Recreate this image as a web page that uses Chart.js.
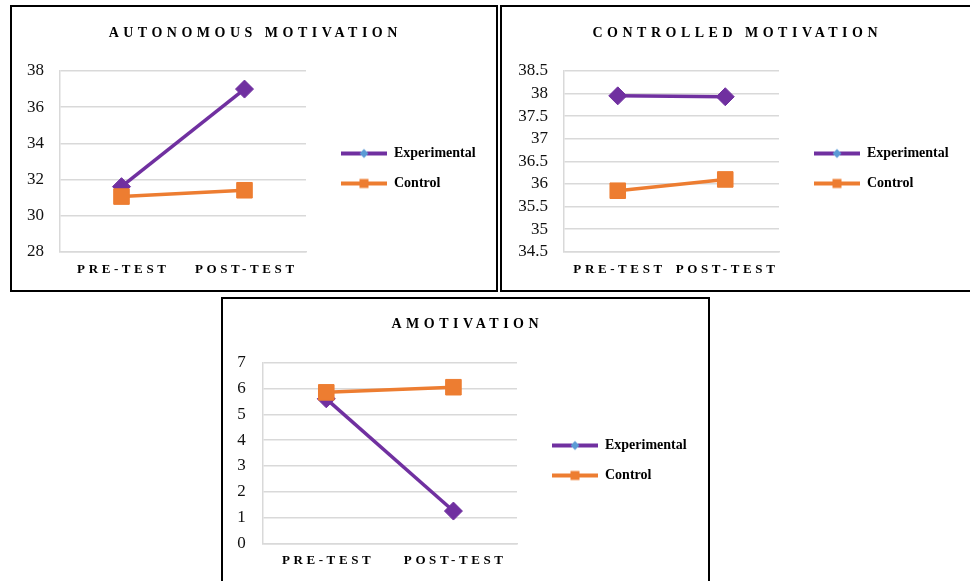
<!DOCTYPE html>
<html lang="en">

<head>
    <meta charset="UTF-8">
    <title>Motivation</title>
    <script src="https://cdn.jsdelivr.net/npm/chart.js"></script>
    <style>
        html, body { margin: 0; padding: 0; background: #fff; overflow: hidden; }
        .box { position: absolute; border: 2px solid #000; box-sizing: border-box; background: #fff; }
        .box canvas { position: absolute; left: 0; top: 0; }
    </style>
</head>

<body>
    <div class="box" style="left:10px; top:5px; width:488px; height:287px;">
        <canvas id="autonomous" width="484" height="282"></canvas>
    </div>
    <div class="box" style="left:500px; top:5px; width:472px; height:287px;">
        <canvas id="controlled" width="468" height="282"></canvas>
    </div>
    <div class="box" style="left:221px; top:297px; width:489px; height:300px;">
        <canvas id="amotivation" width="484" height="282"></canvas>
    </div>

    <script>
        // data
        const categories = ['PRE-TEST', 'POST-TEST'];
        const seriesNames = ['Experimental', 'Control'];

        const autonomousExperimental = [31.6, 37.0];
        const autonomousControl = [31.05, 31.4];
        const autonomousTicks = [28, 30, 32, 34, 36, 38];

        const controlledExperimental = [37.95, 37.93];
        const controlledControl = [35.85, 36.1];
        const controlledTicks = [34.5, 35, 35.5, 36, 36.5, 37, 37.5, 38, 38.5];

        const amotivationExperimental = [5.6, 1.25];
        const amotivationControl = [5.85, 6.05];
        const amotivationTicks = [0, 1, 2, 3, 4, 5, 6, 7];

        const PURPLE = '#7030A0';
        const ORANGE = '#ED7D31';
        const LEGEND_BLUE = '#5B9BD5';
        const GRID = '#D9D9D9';
        const SERIF = "'Liberation Serif', 'Times New Roman', serif";

        // legend sample: short line with the marker in the middle
        function legendIcon(color, marker) {
            const c = document.createElement('canvas');
            c.width = 65; c.height = 14;
            const g = c.getContext('2d');
            g.strokeStyle = color;
            g.lineWidth = 4;
            g.beginPath(); g.moveTo(19, 7); g.lineTo(65, 7); g.stroke();
            if (marker === 'diamond') {
                g.fillStyle = LEGEND_BLUE;
                g.beginPath(); g.moveTo(42, 2.5); g.lineTo(46.5, 7); g.lineTo(42, 11.5); g.lineTo(37.5, 7); g.closePath(); g.fill();
            } else {
                g.fillStyle = color;
                g.fillRect(37.5, 2.5, 9, 9);
            }
            return c;
        }
        const icons = [legendIcon(PURPLE, 'diamond'), legendIcon(ORANGE, 'square')];

        // wraps a draw call so its text gets letter spacing
        function spaced(chart, obj, fn, sp) {
            if (!obj || obj['_sp_' + fn]) return;
            const orig = obj[fn];
            obj['_sp_' + fn] = true;
            obj[fn] = function () {
                const ctx = chart.ctx;
                ctx.save();
                ctx.letterSpacing = sp + 'px';
                ctx.translate(sp / 2, 0);
                orig.apply(this, arguments);
                ctx.restore();
            };
        }

        const tweaks = {
            id: 'tweaks',
            beforeLayout(chart, args, o) {
                const lg = chart.legend;
                if (lg && !lg._fixed) {
                    const fit = lg.fit;
                    lg.fit = function () { fit.call(this); this.width = o.legendWidth; };
                    lg._fixed = true;
                }
            },
            afterLayout(chart, args, o) {
                chart.legend.top += o.legendShift;
                chart.legend.bottom += o.legendShift;
            },
            beforeDraw(chart, args, o) {
                spaced(chart, chart.titleBlock, 'draw', o.titleSpacing);
                spaced(chart, chart.scales.x, 'drawLabels', o.tickSpacing);
            }
        };

        function makeChart(id, title, experimental, control, ticks, L) {
            return new Chart(document.getElementById(id), {
                type: 'line',
                data: {
                    labels: categories,
                    datasets: [
                        {
                            label: seriesNames[0],
                            data: experimental,
                            borderColor: PURPLE,
                            backgroundColor: PURPLE,
                            borderWidth: 3.5,
                            pointStyle: 'rectRot',
                            pointRadius: 9,
                            pointBorderWidth: 1,
                            order: 1
                        },
                        {
                            label: seriesNames[1],
                            data: control,
                            borderColor: ORANGE,
                            backgroundColor: ORANGE,
                            borderWidth: 3.5,
                            pointStyle: 'rect',
                            pointRadius: 11,
                            pointBorderWidth: 1,
                            order: 0
                        }
                    ]
                },
                options: {
                    responsive: false,
                    animation: false,
                    layout: { padding: { left: 0, right: L.padRight, top: 0, bottom: 0 } },
                    plugins: {
                        title: {
                            display: true,
                            text: title,
                            color: '#000',
                            font: { family: SERIF, size: 14, weight: 'bold' },
                            padding: { top: L.titleTop, bottom: L.titleBottom }
                        },
                        legend: {
                            position: 'right',
                            labels: {
                                usePointStyle: true,
                                pointStyleWidth: 65,
                                boxHeight: 13,
                                padding: 16,
                                color: '#000',
                                font: { family: SERIF, size: 14, weight: 'bold' },
                                generateLabels: chart => chart.data.datasets.map((ds, i) => ({
                                    text: ds.label,
                                    pointStyle: icons[i],
                                    fillStyle: ds.borderColor,
                                    strokeStyle: ds.borderColor,
                                    lineWidth: 0,
                                    fontColor: '#000',
                                    hidden: false,
                                    datasetIndex: i
                                }))
                            }
                        },
                        tooltip: { enabled: false },
                        tweaks: { legendWidth: L.legendWidth, legendShift: 20.5, titleSpacing: 4.5, tickSpacing: 3.6 }
                    },
                    scales: {
                        x: {
                            offset: true,
                            grid: { display: false, drawTicks: false },
                            border: { color: GRID, width: 1.5 },
                            ticks: {
                                color: '#000',
                                padding: 10,
                                maxRotation: 0,
                                font: { family: SERIF, size: 13, weight: 'bold' }
                            },
                            afterFit: s => { s.height = L.xHeight; }
                        },
                        y: {
                            min: ticks[0],
                            max: ticks[ticks.length - 1],
                            ticks: {
                                stepSize: ticks[1] - ticks[0],
                                autoSkip: false,
                                padding: L.tickPad,
                                color: '#111',
                                font: { family: SERIF, size: 17, lineHeight: 1 },
                                callback: v => String(ticks.find(t => Math.abs(t - v) < 1e-6) ?? v)
                            },
                            grid: { color: GRID, lineWidth: 1.5, drawTicks: false },
                            border: { color: GRID, width: 1.5 },
                            afterFit: s => { s.width = L.yWidth; }
                        }
                    }
                },
                plugins: [tweaks]
            });
        }

        makeChart('autonomous', 'AUTONOMOUS MOTIVATION', autonomousExperimental, autonomousControl, autonomousTicks,
            { yWidth: 48, xHeight: 37.3, padRight: 2, legendWidth: 188, titleTop: 17.6, titleBottom: 29.6, tickPad: 16 });
        makeChart('controlled', 'CONTROLLED MOTIVATION', controlledExperimental, controlledControl, controlledTicks,
            { yWidth: 62, xHeight: 37.3, padRight: 2, legendWidth: 189, titleTop: 17.6, titleBottom: 29.6, tickPad: 16 });
        makeChart('amotivation', 'AMOTIVATION', amotivationExperimental, amotivationControl, amotivationTicks,
            { yWidth: 39.7, xHeight: 37.7, padRight: 0, legendWidth: 190, titleTop: 16.6, titleBottom: 30.3, tickPad: 17 });
    </script>
</body>

</html>
